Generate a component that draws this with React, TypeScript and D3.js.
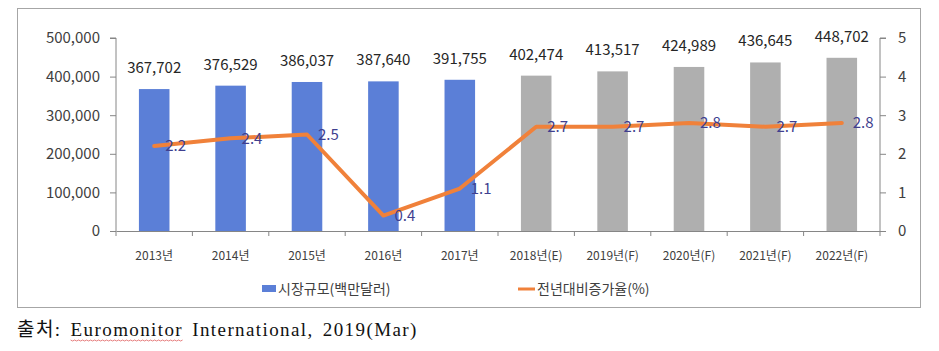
import { useEffect, useRef } from 'react';
import * as d3 from 'd3';

const years = ['2013년', '2014년', '2015년', '2016년', '2017년', '2018년(E)', '2019년(F)', '2020년(F)', '2021년(F)', '2022년(F)'];
const marketSize = [367702, 376529, 386037, 387640, 391755, 402474, 413517, 424989, 436645, 448702];
const growthRate = [2.2, 2.4, 2.5, 0.4, 1.1, 2.7, 2.7, 2.8, 2.7, 2.8];
const isForecast = [false, false, false, false, false, true, true, true, true, true];
const leftTicks = [0, 100000, 200000, 300000, 400000, 500000];
const rightTicks = [0, 1, 2, 3, 4, 5];

const FONT = '"Noto Sans CJK KR", "Noto Sans", sans-serif';

export default function App() {
  const svgRef = useRef<SVGSVGElement | null>(null);

  useEffect(() => {
    if (!svgRef.current) return;
    const svg = d3.select(svgRef.current);
    svg.selectAll('*').remove();

    const left = 116;
    const right = 880;
    const top = 38;
    const bottom = 231;

    // chart frame
    svg.append('rect')
      .attr('x', 17.5).attr('y', 8.5)
      .attr('width', 903).attr('height', 299)
      .attr('fill', '#fff').attr('stroke', '#a6a6a6');

    const x = d3.scaleBand().domain(years).range([left, right]).paddingInner(0.6).paddingOuter(0.3);
    const xBand = d3.scaleBand().domain(years).range([left, right]);
    const y = d3.scaleLinear().domain([0, 500000]).range([bottom, top]);
    const y2 = d3.scaleLinear().domain([0, 5]).range([bottom, top]);

    // bars
    svg.append('g').selectAll('rect')
      .data(years)
      .join('rect')
      .attr('x', (d) => x(d)!)
      .attr('y', (d, i) => y(marketSize[i]))
      .attr('width', x.bandwidth())
      .attr('height', (d, i) => bottom - y(marketSize[i]))
      .attr('fill', (d, i) => (isForecast[i] ? '#afafaf' : '#5b7fd7'));

    // left axis
    const gl = svg.append('g').attr('transform', `translate(${left},0)`)
      .call(d3.axisLeft(y).tickValues(leftTicks).tickFormat((d) => d3.format(',')(d as number)).tickSize(6).tickPadding(10));
    gl.select('.domain').attr('stroke', '#868686').attr('d', `M-6,${top}H0V${bottom}`);
    gl.selectAll('.tick line').attr('stroke', '#868686');
    gl.selectAll('text').attr('font-family', FONT).attr('font-size', 15).attr('fill', '#404040');

    // right axis
    const gr = svg.append('g').attr('transform', `translate(${right},0)`)
      .call(d3.axisRight(y2).tickValues(rightTicks).tickFormat(d3.format('d')).tickSize(6).tickPadding(12));
    gr.select('.domain').attr('stroke', '#868686').attr('d', `M6,${top}H0V${bottom}`);
    gr.selectAll('.tick line').attr('stroke', '#868686');
    gr.selectAll('text').attr('font-family', FONT).attr('font-size', 15).attr('fill', '#404040');

    // bottom axis
    const gb = svg.append('g').attr('transform', `translate(0,${bottom})`)
      .call(d3.axisBottom(xBand).tickSize(0).tickPadding(20));
    gb.select('.domain').attr('stroke', '#868686');
    gb.selectAll('.tick line').remove();
    gb.selectAll('text').attr('font-family', FONT).attr('font-size', 12).attr('fill', '#404040');
    // tick marks between categories
    gb.append('g').selectAll('line')
      .data(d3.range(years.length + 1))
      .join('line')
      .attr('x1', (i) => left + i * xBand.step())
      .attr('x2', (i) => left + i * xBand.step())
      .attr('y1', 0).attr('y2', 5)
      .attr('stroke', '#868686');

    // value labels
    svg.append('g').selectAll('text')
      .data(years)
      .join('text')
      .attr('x', (d) => x(d)! + x.bandwidth() / 2)
      .attr('y', (d, i) => y(marketSize[i]) - 16)
      .attr('text-anchor', 'middle')
      .attr('font-family', FONT)
      .attr('font-size', 15)
      .attr('fill', '#262626')
      .text((d, i) => d3.format(',')(marketSize[i]));

    // growth line
    const cx = (d: string) => xBand(d)! + xBand.bandwidth() / 2;
    const line = d3.line<number>()
      .x((d, i) => cx(years[i]))
      .y((d) => y2(d));
    svg.append('path')
      .datum(growthRate)
      .attr('d', line)
      .attr('fill', 'none')
      .attr('stroke', '#f0813a')
      .attr('stroke-width', 4)
      .attr('stroke-linejoin', 'round')
      .attr('stroke-linecap', 'round');

    // growth labels
    svg.append('g').selectAll('text')
      .data(growthRate)
      .join('text')
      .attr('x', (d, i) => cx(years[i]) + 11)
      .attr('y', (d) => y2(d))
      .attr('dy', '0.35em')
      .attr('font-family', FONT)
      .attr('font-size', 15)
      .attr('fill', '#3f3f8f')
      .text((d) => d.toFixed(1));

    // legend
    const lg = svg.append('g').attr('font-family', FONT).attr('font-size', 14).attr('fill', '#404040');
    lg.append('rect').attr('x', 262).attr('y', 285).attr('width', 14).attr('height', 7).attr('fill', '#5b7fd7');
    lg.append('text').attr('x', 278).attr('y', 289).attr('dy', '0.35em').text('시장규모(백만달러)');
    lg.append('line').attr('x1', 518).attr('x2', 535).attr('y1', 289).attr('y2', 289)
      .attr('stroke', '#f0813a').attr('stroke-width', 3);
    lg.append('text').attr('x', 537).attr('y', 289).attr('dy', '0.35em').text('전년대비증가율(%)');

    // source note
    const src = svg.append('text')
      .attr('x', 17).attr('y', 336)
      .attr('font-family', '"Liberation Serif", "Noto Sans CJK KR", serif')
      .attr('font-size', 19)
      .attr('letter-spacing', 1.4)
      .attr('word-spacing', 3)
      .attr('fill', '#111');
    src.append('tspan').text('출처: ');
    src.append('tspan').text('Euromonitor');
    src.append('tspan').text(' International, 2019(Mar)');

    // spell-check squiggle under "Euromonitor"
    const node = src.node() as SVGTextElement;
    const startIdx = '출처: '.length;
    const endIdx = startIdx + 'Euromonitor'.length - 1;
    const x0 = node.getStartPositionOfChar(startIdx).x;
    const x1 = node.getEndPositionOfChar(endIdx).x;
    const pts = d3.range(x0, x1, 2).map((px, i) => [px, 340 + (i % 2 ? 1 : 0)] as [number, number]);
    svg.append('path')
      .attr('d', d3.line()(pts))
      .attr('fill', 'none')
      .attr('stroke', '#e06060')
      .attr('stroke-width', 0.8);
  }, []);

  return (
    <div style={{ position: 'absolute', left: 0, top: 0 }}>
      <svg ref={svgRef} width={939} height={351} />
    </div>
  );
}
